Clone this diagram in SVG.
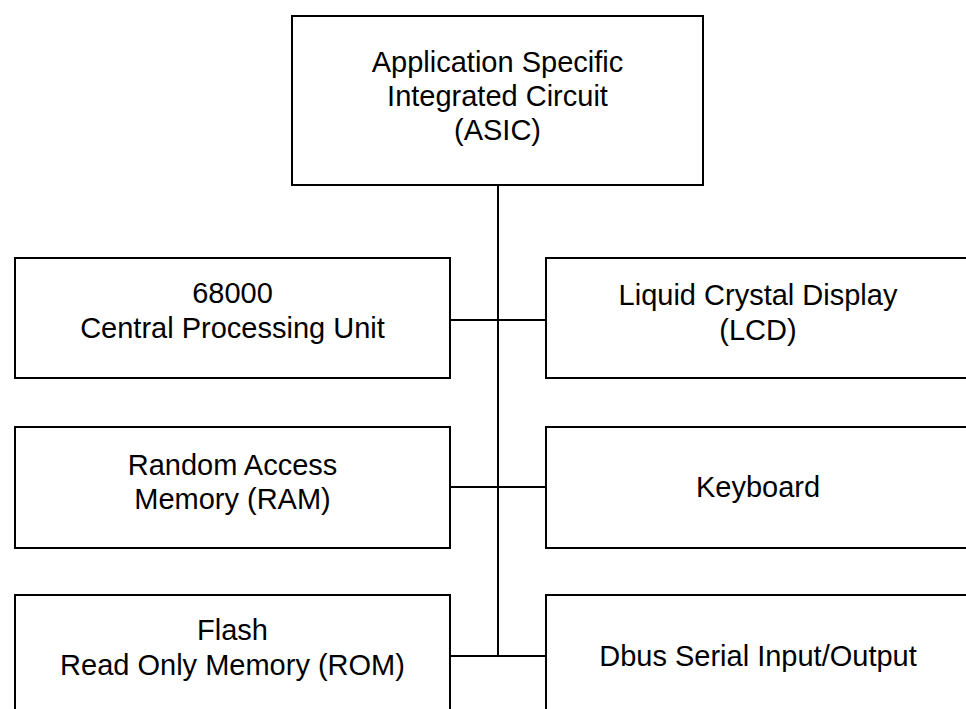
<svg xmlns="http://www.w3.org/2000/svg" width="966" height="709" viewBox="0 0 966 709">
<style>
.box{fill:#fff;stroke:#000;stroke-width:2}
.wire{fill:none;stroke:#000;stroke-width:2}
text{font-family:"Liberation Sans",Arial,sans-serif;font-size:29px;fill:#000;text-anchor:middle}
</style>
<rect width="966" height="709" fill="#fff"/>
<g id="connectors">
<line class="wire" x1="498" y1="185" x2="498" y2="656"/>
<line class="wire" x1="450" y1="320" x2="546" y2="320"/>
<line class="wire" x1="450" y1="487" x2="546" y2="487"/>
<line class="wire" x1="450" y1="656" x2="546" y2="656"/>
</g>
<g id="asic">
<rect class="box" x="292" y="16" width="411" height="169"/>
<text x="497.5" y="72">Application Specific</text>
<text x="497.5" y="106">Integrated Circuit</text>
<text x="497.5" y="140">(ASIC)</text>
</g>
<g id="cpu">
<rect class="box" x="15" y="258" width="435" height="120"/>
<text x="232.5" y="303">68000</text>
<text x="232.5" y="338">Central Processing Unit</text>
</g>
<g id="lcd">
<rect class="box" x="546" y="258" width="430" height="120"/>
<text x="758" y="305">Liquid Crystal Display</text>
<text x="758" y="340">(LCD)</text>
</g>
<g id="ram">
<rect class="box" x="15" y="427" width="435" height="121"/>
<text x="232.5" y="475">Random Access</text>
<text x="232.5" y="509">Memory (RAM)</text>
</g>
<g id="keyboard">
<rect class="box" x="546" y="427" width="430" height="121"/>
<text x="758" y="497">Keyboard</text>
</g>
<g id="rom">
<rect class="box" x="15" y="595" width="435" height="130"/>
<text x="232.5" y="640">Flash</text>
<text x="232.5" y="675">Read Only Memory (ROM)</text>
</g>
<g id="dbus">
<rect class="box" x="546" y="595" width="430" height="130"/>
<text x="758" y="666">Dbus Serial Input/Output</text>
</g>
</svg>
